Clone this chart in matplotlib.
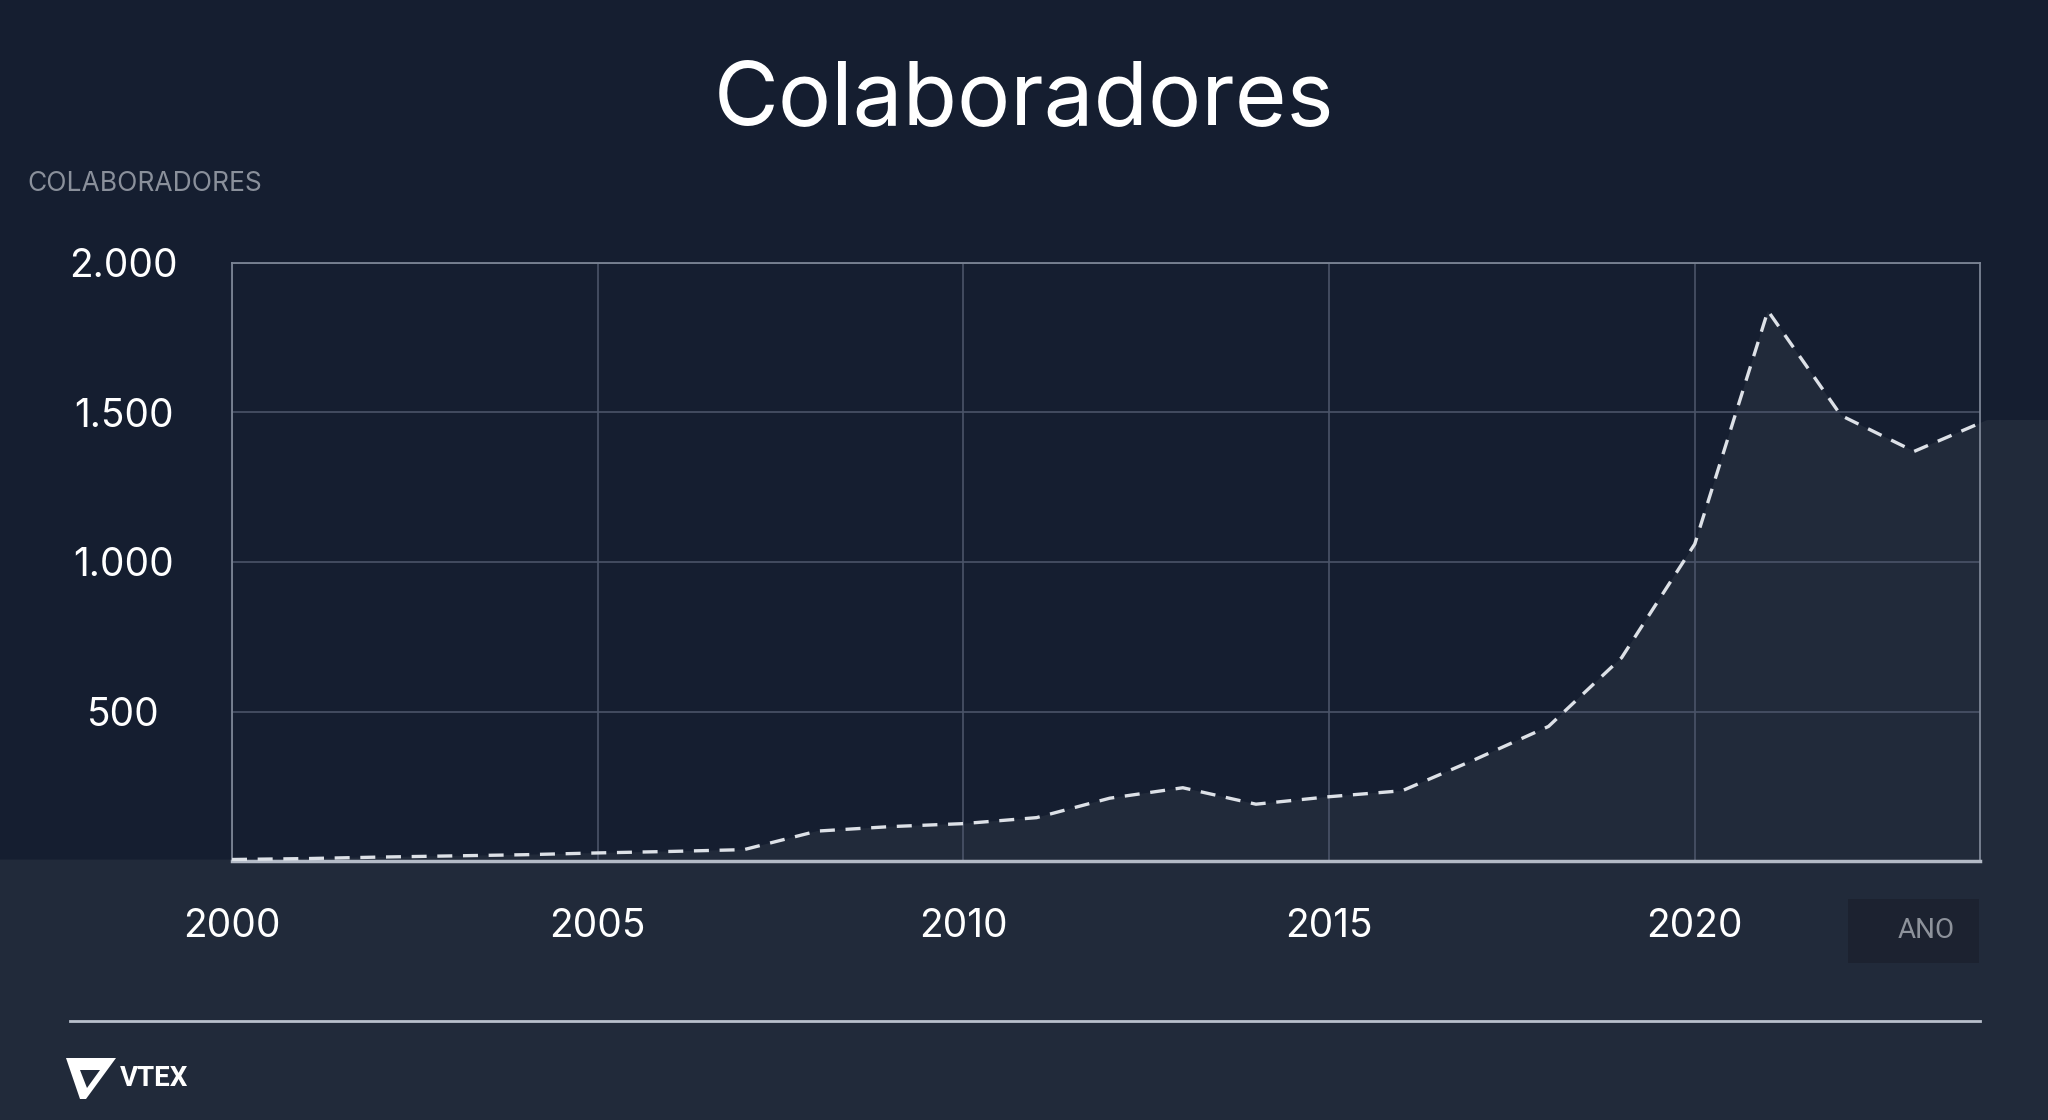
import matplotlib.pyplot as plt
from matplotlib.patches import Polygon, Rectangle
from matplotlib.lines import Line2D

# data
years = list(range(2000, 2025))
colaboradores = [5, 8, 13, 17, 21, 27, 32, 38, 100, 115, 125, 145, 210, 245, 190,
                 215, 235, 340, 450, 680, 1060, 1840, 1490, 1370, 1475]
x_ticks = [2000, 2005, 2010, 2015, 2020]
y_ticks = [500, 1000, 1500, 2000]
y_labels = ["500", "1.000", "1.500", "2.000"]

BG = "#151e30"
FILL = "#212a3a"
W, H = 2048, 1120


def px(x, y):
    # pixel position (from top-left) -> figure fraction
    return (x / W, 1 - y / H)


fig = plt.figure(figsize=(20.48, 11.2), dpi=100, facecolor=BG)
ax = fig.add_axes([232 / W, 259 / H, 1748 / W, 598 / H])
ax.set_facecolor(BG)

# area under the line, carried on past the plot edges like in the original
fx = [years[0] - 30] + years + [years[-1] + 30, years[-1] + 30, years[0] - 30]
fy = [colaboradores[0]] + colaboradores + [colaboradores[-1], -3000, -3000]
ax.fill(fx, fy, color=FILL, lw=0, zorder=0, clip_on=False)

ax.plot(years, colaboradores, color="#dde1e7", lw=2.4, ls=(0, (4.5, 3.2)), zorder=3)

ax.set_xlim(2000, 2023.9)
ax.set_ylim(0, 2000)
ax.set_xticks(x_ticks)
ax.set_xticklabels([str(x) for x in x_ticks])
ax.set_yticks(y_ticks)
ax.set_yticklabels(y_labels)
ax.grid(True, color="#4a5468", lw=1.2, zorder=2)

ax.tick_params(axis="both", length=0, colors="white", labelsize=28)
ax.tick_params(axis="y", pad=78)
ax.tick_params(axis="x", pad=34)
for lab in ax.get_yticklabels():
    lab.set_ha("center")
    lab.set_family("Inter")
for lab in ax.get_xticklabels():
    lab.set_family("Inter")

for side in ["top", "left", "right"]:
    ax.spines[side].set_color("#7c8595")
    ax.spines[side].set_linewidth(1.3)
ax.spines["bottom"].set_color("#b3bac6")
ax.spines["bottom"].set_linewidth(2.5)

# title and axis captions
fig.text(*px(1024, 101), "Colaboradores", color="white", fontsize=64,
         family="Inter", ha="center", va="center")
fig.text(*px(27, 184), "COLABORADORES", color="#8a909b", fontsize=19,
         family="Inter", ha="left", va="center")

fig.add_artist(Rectangle(px(1848, 963), 131 / W, 64 / H, transform=fig.transFigure,
                         facecolor="#1c2230", edgecolor="none"))
fig.text(*px(1926, 931), "ANO", color="#8d929b", fontsize=20,
         family="Roboto", ha="center", va="center")

# footer rule
fig.add_artist(Line2D([70 / W, 1980 / W], [1 - 1021 / H, 1 - 1021 / H],
                      transform=fig.transFigure, color="#b9c0cc", lw=2))

# VTEX logo (rough)
outer = [px(66, 1058), px(116, 1058), px(86, 1099), px(80, 1099)]
inner = [px(80, 1070), px(100, 1070), px(87, 1088)]
fig.add_artist(Polygon(outer, closed=True, transform=fig.transFigure,
                       facecolor="white", edgecolor="none"))
fig.add_artist(Polygon(inner, closed=True, transform=fig.transFigure,
                       facecolor=FILL, edgecolor="none"))
fig.text(*px(120, 1079), "VTEX", color="white", fontsize=20, fontweight="bold",
         family="Roboto", ha="left", va="center")

fig.savefig("out.png", dpi=100, facecolor=fig.get_facecolor())
